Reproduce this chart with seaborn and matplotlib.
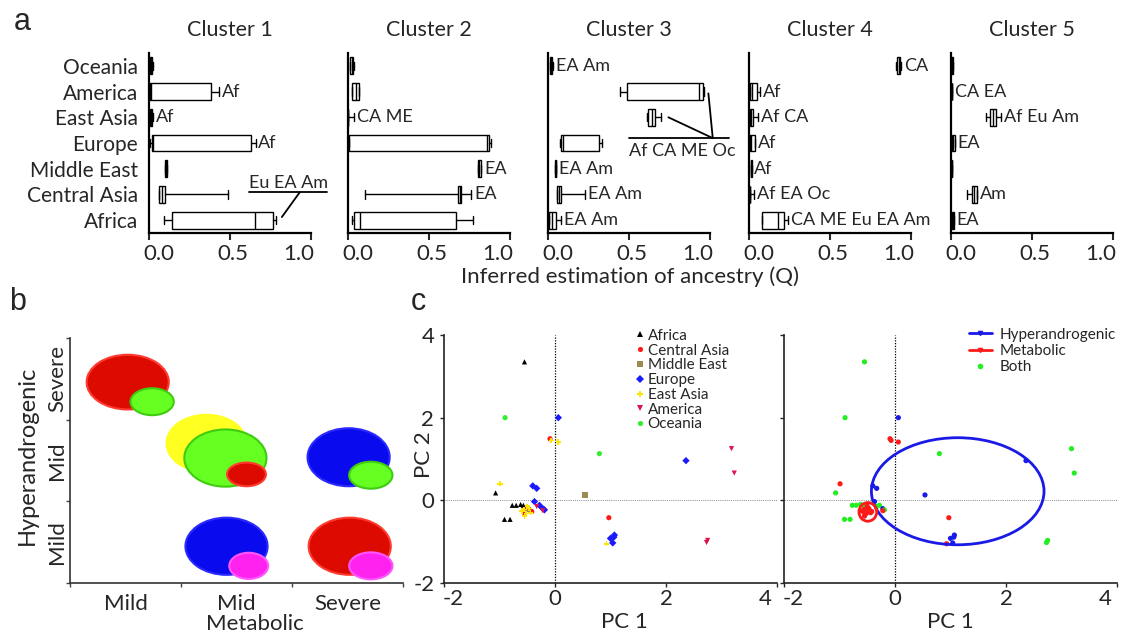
import matplotlib
matplotlib.use("Agg")

import numpy as np
import pandas as pd
import seaborn as sns

from matplotlib import pyplot as plt
from matplotlib.patches import Ellipse
from matplotlib.lines import Line2D
from matplotlib.transforms import ScaledTranslation

# ---------------- panel a : ancestry per cluster ----------------
regions = ["Oceania", "America", "East Asia", "Europe", "Middle East", "Central Asia", "Africa"]
clusters = ["Cluster 1", "Cluster 2", "Cluster 3", "Cluster 4", "Cluster 5"]

# (whisker low, q1, median, q3, whisker high), one row per region
cluster1_stats = [
    (0.000, 0.005, 0.010, 0.020, 0.025),
    (0.000, 0.006, 0.010, 0.383, 0.430),
    (0.000, 0.006, 0.012, 0.020, 0.025),
    (0.005, 0.017, 0.025, 0.631, 0.658),
    (0.100, 0.100, 0.105, 0.112, 0.112),
    (0.064, 0.064, 0.080, 0.100, 0.487),
    (0.093, 0.140, 0.654, 0.766, 0.787),
]
cluster2_stats = [
    (0.010, 0.014, 0.022, 0.030, 0.034),
    (0.025, 0.027, 0.047, 0.068, 0.070),
    (0.000, 0.000, 0.000, 0.000, 0.040),
    (0.004, 0.004, 0.855, 0.870, 0.880),
    (0.800, 0.800, 0.810, 0.823, 0.823),
    (0.103, 0.680, 0.690, 0.700, 0.760),
    (0.025, 0.035, 0.076, 0.669, 0.770),
]
cluster3_stats = [
    (0.010, 0.015, 0.021, 0.027, 0.030),
    (0.443, 0.490, 0.930, 0.955, 0.960),
    (0.610, 0.620, 0.640, 0.660, 0.695),
    (0.072, 0.082, 0.093, 0.313, 0.336),
    (0.045, 0.045, 0.047, 0.049, 0.049),
    (0.058, 0.058, 0.065, 0.082, 0.227),
    (0.006, 0.006, 0.027, 0.047, 0.082),
]
cluster4_stats = [
    (0.905, 0.913, 0.924, 0.934, 0.940),
    (0.008, 0.008, 0.020, 0.050, 0.070),
    (0.008, 0.008, 0.012, 0.025, 0.056),
    (0.004, 0.008, 0.012, 0.039, 0.039),
    (0.010, 0.010, 0.013, 0.016, 0.016),
    (0.004, 0.004, 0.004, 0.004, 0.031),
    (0.083, 0.083, 0.180, 0.217, 0.240),
]
cluster5_stats = [
    (0.000, 0.000, 0.005, 0.010, 0.010),
    (0.003, 0.004, 0.005, 0.006, 0.007),
    (0.216, 0.243, 0.260, 0.280, 0.311),
    (0.004, 0.004, 0.012, 0.025, 0.025),
    (0.000, 0.003, 0.005, 0.007, 0.008),
    (0.100, 0.129, 0.140, 0.160, 0.160),
    (0.004, 0.004, 0.010, 0.019, 0.019),
]
cluster1_labels = ["", "Af", "Af", "Af", "", "", ""]
cluster2_labels = ["", "", "CA ME", "", "EA", "EA", ""]
cluster3_labels = ["EA Am", "", "", "", "EA Am", "EA Am", "EA Am"]
cluster4_labels = ["CA", "Af", "Af CA", "Af", "Af", "Af EA Oc", "CA ME Eu EA Am"]
cluster5_labels = ["", "CA EA", "Af Eu Am", "EA", "", "Am", "EA"]

# ---------------- panel b : phenotype diagram ----------------
severity = ["Mild", "Mid", "Severe"]
b_x = [0.52, 0.74, 1.23, 1.40, 1.59, 2.51, 2.71, 1.41, 1.61, 2.52, 2.71]
b_y = [2.46, 2.22, 1.71, 1.53, 1.33, 1.54, 1.32, 0.45, 0.21, 0.45, 0.21]
b_w = [0.74, 0.39, 0.72, 0.74, 0.35, 0.74, 0.39, 0.74, 0.35, 0.74, 0.39]
b_h = [0.67, 0.33, 0.70, 0.70, 0.29, 0.71, 0.33, 0.70, 0.32, 0.70, 0.33]
b_fill = ["#dd0a00", "#66ff22", "#ffff22", "#66ff22", "#dd0a00", "#0a0aee",
          "#66ff22", "#0a0aee", "#ff22ee", "#dd0a00", "#ff22ee"]
b_edge = ["#ff3b30", "#3fcc10", "#ffff22", "#3fcc10", "#ff3b30", "#2a2aff",
          "#3fcc10", "#2a2aff", "#ff55ff", "#ff3b30", "#ff55ff"]

# ---------------- panel c : PCA ----------------
pc1 = [-0.55, -1.07, -0.91, -0.81, -0.77, -0.70, -0.62, -0.57,
       -0.90, 0.80,
       -0.09, 0.97, -0.50, -0.42, -0.55,
       0.54, -0.48,
       0.06, 2.36, -0.40, -0.33, -0.37, -0.28, -0.22, -0.19, 1.00, 1.06, 1.07, 1.04,
       0.06, -0.07, -0.99, 0.93, -0.56, -0.52, -0.47, -0.55, -0.44, -0.60, -0.50,
       3.18, 3.23, 2.73, 2.75, -0.33, -0.22]
pc2 = [3.35, 0.18, -0.46, -0.46, -0.12, -0.12, -0.10, -0.12,
       2.00, 1.13,
       1.49, -0.42, -0.18, -0.27, -0.30,
       0.13, -0.22,
       2.00, 0.96, 0.35, 0.29, -0.03, -0.12, -0.20, -0.23, -0.92, -0.89, -0.84, -1.03,
       1.41, 1.45, 0.40, -1.05, -0.22, -0.32, -0.20, -0.38, -0.30, -0.26, -0.14,
       1.25, 0.66, -1.02, -0.97, -0.15, -0.25]
origin = (["Africa"] * 8 + ["Oceania"] * 2 + ["Central Asia"] * 5 + ["Middle East"] * 2
          + ["Europe"] * 12 + ["East Asia"] * 11 + ["America"] * 6)
phenotype = (["Both"] * 8 + ["Both"] * 2 + ["Metabolic"] * 5 + ["Hyperandrogenic", "Metabolic"]
             + ["Hyperandrogenic"] * 5 + ["Both", "Hyperandrogenic", "Both"] + ["Hyperandrogenic"] * 4
             + ["Metabolic"] * 11 + ["Both"] * 5 + ["Metabolic"])
origin_order = ["Africa", "Central Asia", "Middle East", "Europe", "East Asia", "America", "Oceania"]
pheno_order = ["Hyperandrogenic", "Metabolic", "Both"]
ell_x = [1.13, -0.49]
ell_y = [0.22, -0.28]
ell_w = [3.11, 0.32]
ell_h = [2.59, 0.45]

origin_colors = {"Africa": "black", "Central Asia": "#ff1a1a", "Middle East": "#9c8a50",
                 "Europe": "#1a1aff", "East Asia": "#ffe600", "America": "#dc1450",
                 "Oceania": "#33ee33"}
origin_markers = {"Africa": "^", "Central Asia": "o", "Middle East": "s", "Europe": "D",
                  "East Asia": "P", "America": "v", "Oceania": "o"}
pheno_colors = {"Hyperandrogenic": "#1a1ae6", "Metabolic": "#ff1a1a", "Both": "#22ee22"}

sns.set_style("ticks")
plt.rcParams["font.family"] = ["Lato", "DejaVu Sans"]
plt.rcParams["axes.unicode_minus"] = False

W, H = 1121, 636
fig = plt.figure(figsize=(W / 100, H / 100), dpi=100)


def rect(x0, y0, x1, y1):
    return [x0 / W, 1 - y1 / H, (x1 - x0) / W, (y1 - y0) / H]


def fx(x):
    return x / W


def fy(y):
    return 1 - y / H


def nudge(label, dx):
    label.set_transform(label.get_transform() + ScaledTranslation(dx / 100, 0, fig.dpi_scale_trans))


# ---- panel a
all_stats = [cluster1_stats, cluster2_stats, cluster3_stats, cluster4_stats, cluster5_stats]
all_labels = [cluster1_labels, cluster2_labels, cluster3_labels, cluster4_labels, cluster5_labels]
a_axes = []
for i, x0 in enumerate([149, 348, 548, 749, 951]):
    ax = fig.add_axes(rect(x0, 53, x0 + 162, 233))
    a_axes.append(ax)
    stats = [dict(whislo=s[0], q1=s[1], med=s[2], q3=s[3], whishi=s[4], fliers=[])
             for s in all_stats[i]]
    ax.bxp(stats, positions=range(len(regions)), orientation="horizontal",
           widths=0.66, capwidths=0.32, patch_artist=True, showfliers=False,
           boxprops=dict(facecolor="white", edgecolor="black", linewidth=1),
           whiskerprops=dict(color="black", linewidth=1),
           capprops=dict(color="black", linewidth=1),
           medianprops=dict(color="black", linewidth=1))
    for j, lab in enumerate(all_labels[i]):
        if lab:
            ax.annotate(lab, xy=(all_stats[i][j][4], j), xytext=(2, 0),
                        textcoords="offset points", ha="left", va="center",
                        fontsize=13, annotation_clip=False)
    ax.set_xlim(0, 1.0)
    ax.set_ylim(6.5, -0.5)
    ax.set_xticks([0, 0.5, 1.0])
    ax.set_xticklabels(["0.0", "0.5", "1.0"], fontsize=16)
    ax.set_yticks(range(len(regions)))
    if i == 0:
        ax.set_yticklabels(regions, fontsize=15)
    else:
        ax.set_yticklabels([])
    ax.tick_params(axis="y", length=0, pad=8)
    ax.tick_params(axis="x", length=5, width=1.5, pad=3)
    tl = ax.get_xticklabels()
    nudge(tl[0], 10)
    nudge(tl[1], 3)
    nudge(tl[2], -12)
    for side in ["top", "right"]:
        ax.spines[side].set_visible(False)
    for side in ["left", "bottom"]:
        ax.spines[side].set_linewidth(1.6)
        ax.spines[side].set_color("black")
    ax.set_title(clusters[i], fontsize=15.5, pad=12)

# connector annotations
ax = a_axes[0]
ax.text(0.62, 4.55, "Eu EA Am", fontsize=13, ha="left", va="center")
ax.plot([0.62, 1.10], [4.92, 4.92], color="black", lw=1.3, clip_on=False)
ax.plot([0.93, 0.82], [4.92, 5.88], color="black", lw=1.3, clip_on=False)
ax = a_axes[2]
ax.text(0.50, 3.3, "Af CA ME Oc", fontsize=13, ha="left", va="center", clip_on=False)
ax.plot([0.50, 1.12], [2.81, 2.81], color="black", lw=1.3, clip_on=False)
ax.plot([1.017, 0.99], [2.81, 1.07], color="black", lw=1.3, clip_on=False)
ax.plot([1.017, 0.743], [2.81, 2.0], color="black", lw=1.3, clip_on=False)

fig.text(fx(630), fy(277), "Inferred estimation of ancestry (Q)", fontsize=16,
         ha="center", va="center")

# ---- panel b
axb = fig.add_axes(rect(70, 338, 403, 583))
for k in range(len(b_x)):
    axb.add_patch(Ellipse((b_x[k], b_y[k]), b_w[k], b_h[k], facecolor=b_fill[k],
                          edgecolor=b_edge[k], linewidth=1.5))
axb.set_xlim(0, 3)
axb.set_ylim(0, 3)
axb.set_xticks([0.5, 1.5, 2.5])
axb.set_xticklabels(severity, fontsize=16)
axb.set_yticks([0.5, 1.5, 2.5])
axb.set_yticklabels(severity, fontsize=16, rotation=90, va="center")
axb.set_xticks([0, 1, 2, 3], minor=True)
axb.set_yticks([0, 1, 2, 3], minor=True)
axb.tick_params(axis="x", which="major", length=0, pad=8)
axb.tick_params(axis="y", which="major", length=0, pad=2)
axb.tick_params(which="minor", length=3, width=1, color="#444444")
for side in ["top", "right"]:
    axb.spines[side].set_visible(False)
for side in ["left", "bottom"]:
    axb.spines[side].set_linewidth(1.2)
    axb.spines[side].set_color("#333333")
fig.text(fx(255), fy(624), "Metabolic", fontsize=16, ha="center", va="center")
fig.text(fx(27), fy(455), "Hyperandrogenic", fontsize=17, ha="center", va="center",
         rotation=90)

# ---- panel c
df = pd.DataFrame({"PC1": pc1, "PC2": pc2, "origin": origin, "phenotype": phenotype})

axl = fig.add_axes(rect(444, 335, 777, 583))
axr = fig.add_axes(rect(784, 335, 1117, 583))
for ax in [axl, axr]:
    ax.axvline(0, color="black", lw=0.9, ls=(0, (1, 1.2)), zorder=0)
    ax.axhline(0, color="#888888", lw=0.7, ls=(0, (1, 1.2)), zorder=0)

sns.scatterplot(data=df, x="PC1", y="PC2", hue="origin", style="origin",
                hue_order=origin_order, style_order=origin_order,
                palette=origin_colors, markers=origin_markers, s=14,
                linewidth=0, ax=axl)
sns.move_legend(axl, "upper left", bbox_to_anchor=(0.57, 1.025), frameon=False,
                title=None, fontsize=11, handletextpad=0.1, labelspacing=0.05,
                handlelength=0.8, borderpad=0, borderaxespad=0)

sns.scatterplot(data=df, x="PC1", y="PC2", hue="phenotype", hue_order=pheno_order,
                palette=pheno_colors, s=14, linewidth=0, legend=False, ax=axr)
ell_colors = [pheno_colors["Hyperandrogenic"], pheno_colors["Metabolic"]]
for k in range(len(ell_x)):
    axr.add_patch(Ellipse((ell_x[k], ell_y[k]), ell_w[k], ell_h[k], fill=False,
                          edgecolor=ell_colors[k], linewidth=2))
handles = [Line2D([], [], color=pheno_colors["Hyperandrogenic"], lw=2, marker="v", ms=3),
           Line2D([], [], color=pheno_colors["Metabolic"], lw=2, marker="v", ms=3),
           Line2D([], [], color=pheno_colors["Both"], lw=0, marker="o", ms=3)]
axr.legend(handles, pheno_order, loc="upper left", bbox_to_anchor=(0.555, 1.03),
           frameon=False, fontsize=11, handletextpad=0.5, labelspacing=0.15,
           handlelength=1.5, borderpad=0, borderaxespad=0)

for ax in [axl, axr]:
    ax.set_xlim(-2, 4)
    ax.set_ylim(-2, 4)
    ax.set_xticks([-2, 0, 2, 4])
    ax.set_yticks([-2, 0, 2, 4])
    ax.tick_params(labelsize=16, length=3, width=1, pad=1)
    ax.set_xlabel("")
    ax.set_ylabel("")
    tl = ax.get_xticklabels()
    tl[0].set_horizontalalignment("left")
    nudge(tl[0], -1)
    tl[-1].set_horizontalalignment("right")
    nudge(tl[-1], -5)
    for side in ["top", "right"]:
        ax.spines[side].set_visible(False)
    for side in ["left", "bottom"]:
        ax.spines[side].set_linewidth(1.2)
        ax.spines[side].set_color("#222222")
axl.tick_params(axis="y", pad=4)
axr.tick_params(labelleft=False)
fig.text(fx(424), fy(455), "PC 2", fontsize=16, ha="center", va="center", rotation=90)
fig.text(fx(624), fy(622), "PC 1", fontsize=16, ha="center", va="center")
fig.text(fx(950), fy(622), "PC 1", fontsize=16, ha="center", va="center")

# panel letters
fig.text(fx(22), fy(22), "a", fontsize=22, family="Liberation Sans", ha="center", va="center")
fig.text(fx(18), fy(302), "b", fontsize=22, family="Liberation Sans", ha="center", va="center")
fig.text(fx(418), fy(302), "c", fontsize=22, family="Liberation Sans", ha="center", va="center")

fig.savefig("out.png", dpi=100)
